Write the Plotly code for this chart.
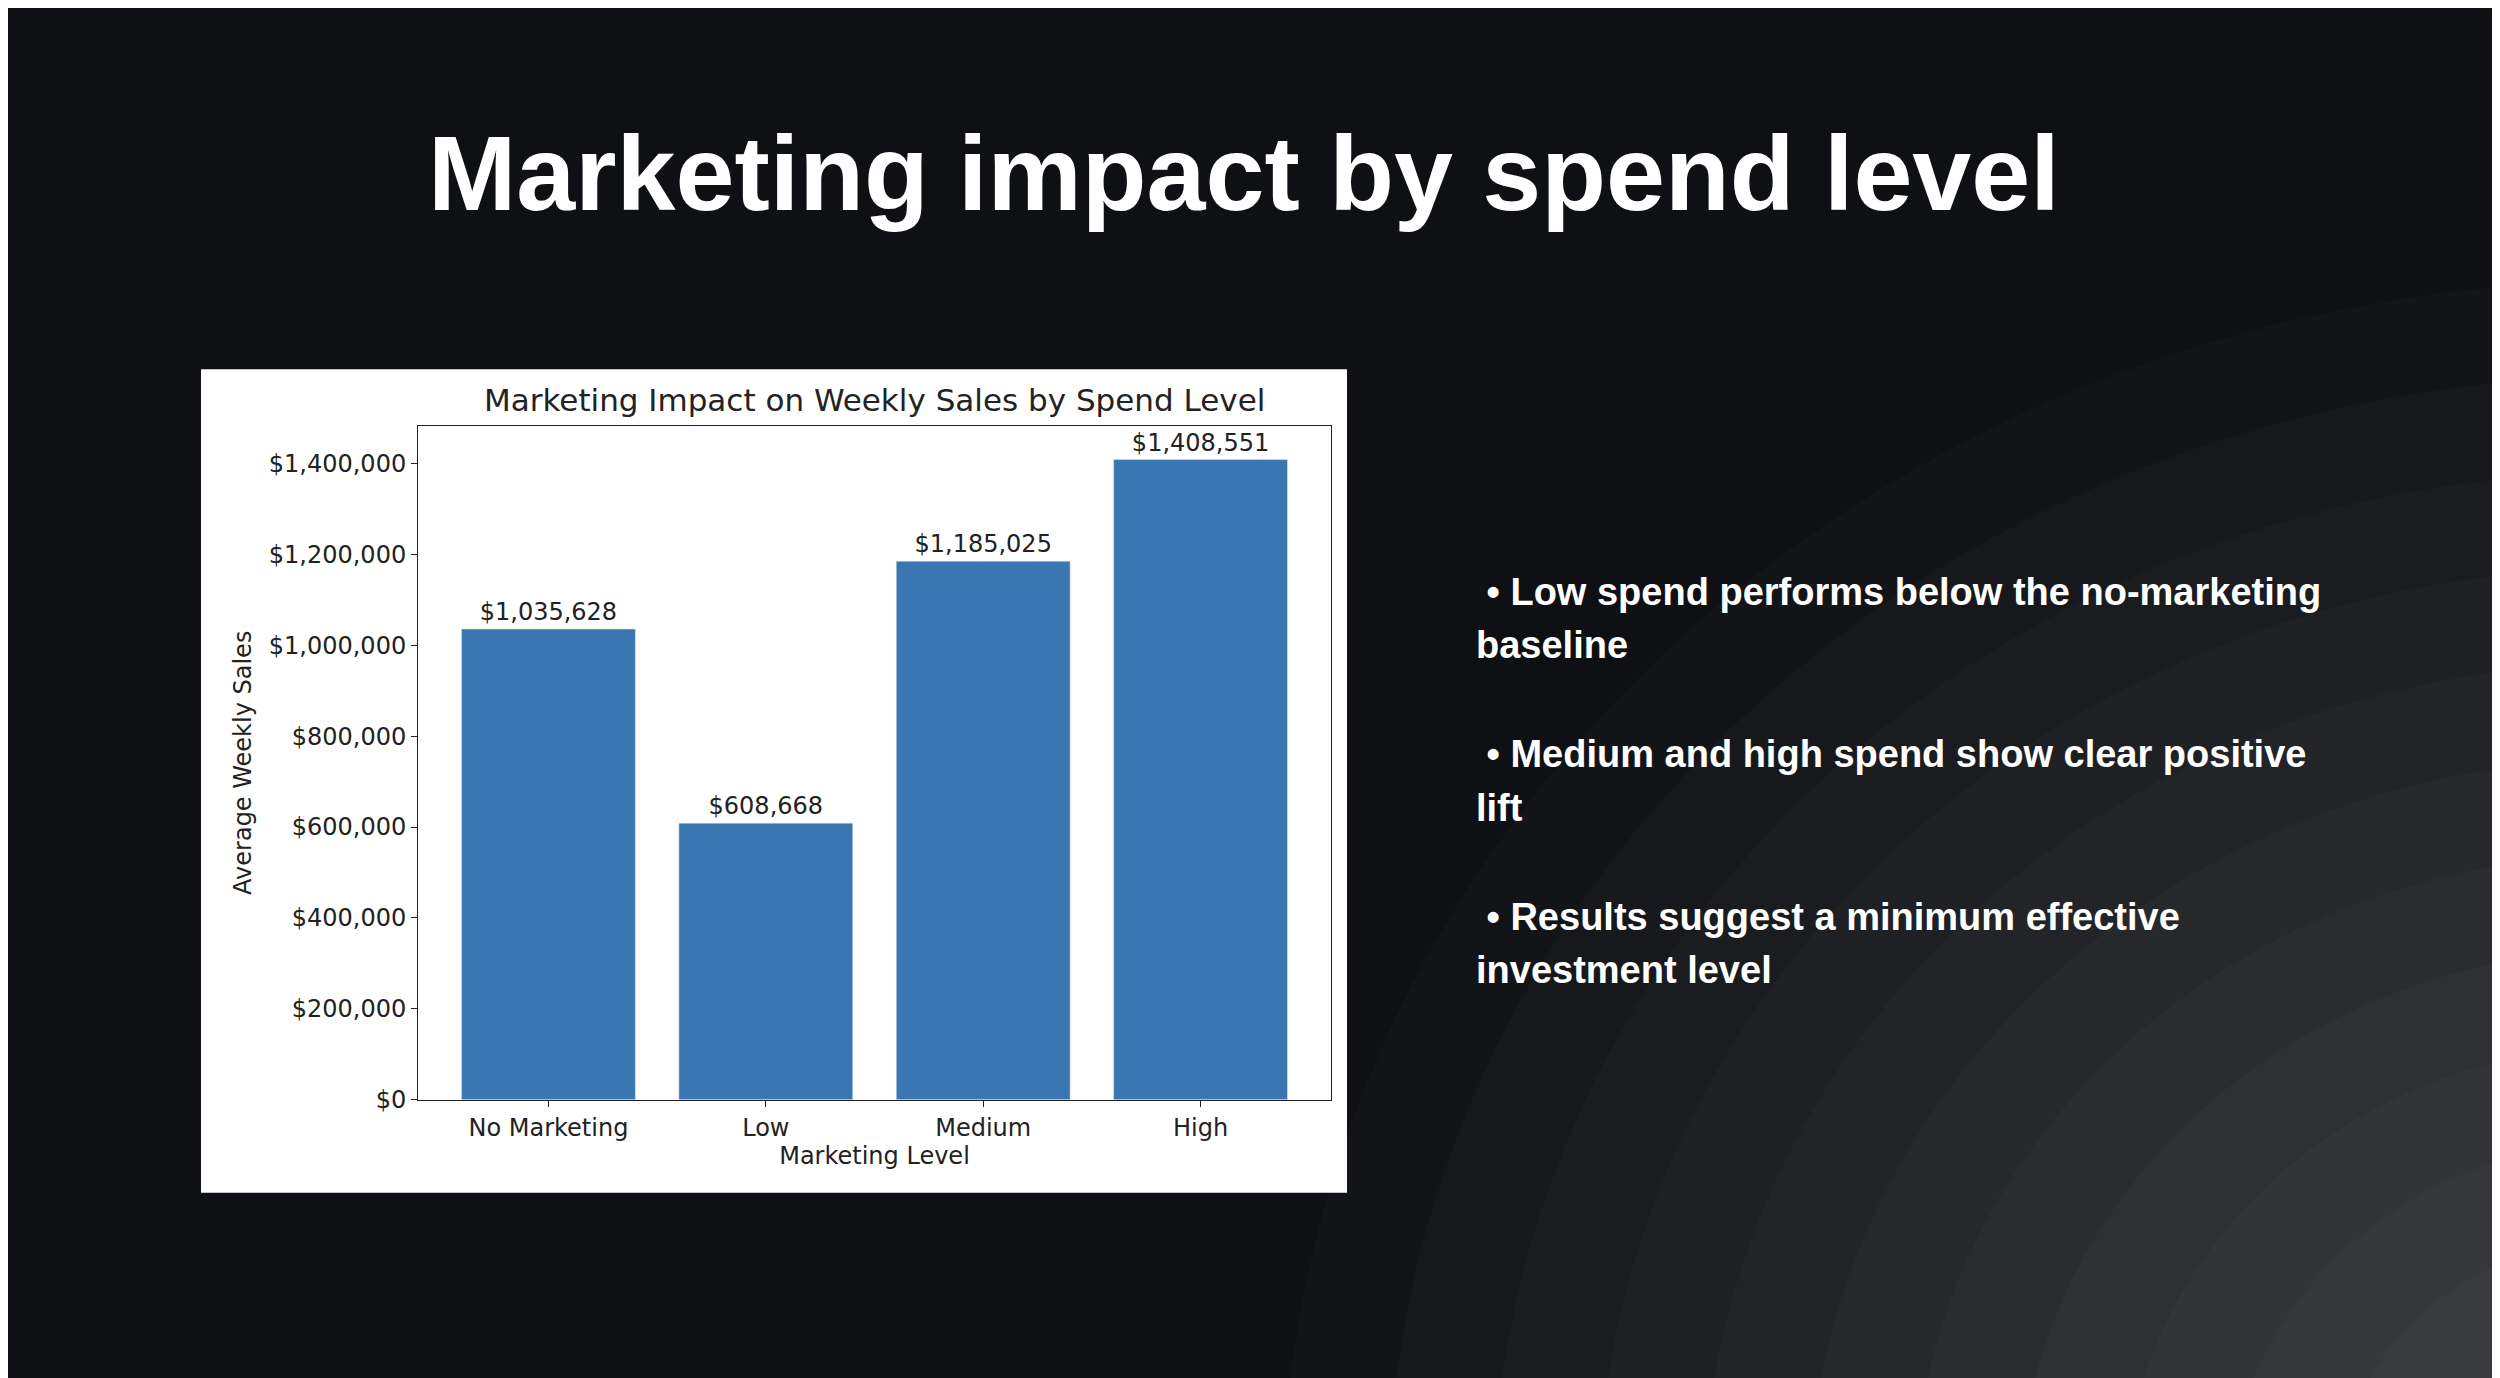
import plotly.graph_objects as go

levels = ["No Marketing", "Low", "Medium", "High"]
avg_sales = [1035628, 608668, 1185025, 1408551]
tick_vals = [0, 200000, 400000, 600000, 800000, 1000000, 1200000, 1400000]
tick_text = ["$0", "$200,000", "$400,000", "$600,000", "$800,000", "$1,000,000", "$1,200,000", "$1,400,000"]
bullets = [
    [" • Low spend performs below the no-marketing", "baseline"],
    [" • Medium and high spend show clear positive", "lift"],
    [" • Results suggest a minimum effective", "investment level"],
]

W, H = 2500, 1378
def py(y):
    return 1 - y / H

fig = go.Figure(go.Bar(
    x=levels, y=avg_sales, width=0.8, marker_color="#3a76b2",
    text=[f"${v:,.0f}" for v in avg_sales], textposition="outside",
    textfont=dict(color="#222", size=24, family="DejaVu Sans"), cliponaxis=False,
))

fig.update_layout(
    width=W, height=H, margin=dict(l=0, r=0, t=0, b=0),
    paper_bgcolor="#0e1014", plot_bgcolor="white", showlegend=False,
    font=dict(family="DejaVu Sans", color="#222"),
    xaxis=dict(domain=[410 / W, 1323 / W], range=[-0.6, 3.6], showline=True, linecolor="#222",
               mirror=True, ticks="outside", ticklen=6, tickcolor="#222",
               tickfont=dict(size=24, color="#222"),
               title=dict(text="Marketing Level", font=dict(size=24, color="#222"), standoff=4)),
    yaxis=dict(domain=[py(1103), py(422)], range=[0, 1483000], showline=True, linecolor="#222",
               mirror=True, ticks="outside", ticklen=6, tickcolor="#222", showgrid=False,
               tickvals=tick_vals, ticktext=tick_text, tickfont=dict(size=24, color="#222"),
               title=dict(text="Average Weekly Sales", font=dict(size=24, color="#222"), standoff=10)),
)

# soft lighter glow toward bottom-right corner
for k in range(12):
    r = 0.9 - k * 0.07
    fig.add_shape(type="circle", xref="paper", yref="paper",
                  x0=1.05 - r * 0.6, x1=1.05 + r * 0.6, y0=-0.1 - r, y1=-0.1 + r,
                  fillcolor="rgba(255,255,255,0.018)", line_width=0, layer="below")

# white panel behind chart
fig.add_shape(type="rect", xref="paper", yref="paper", x0=193 / W, x1=1339 / W,
              y0=py(1197), y1=py(365), fillcolor="white", line_width=0, layer="below")

fig.add_annotation(text="Marketing Impact on Weekly Sales by Spend Level", xref="paper", yref="paper",
                   x=(410 + 1323) / 2 / W, y=py(396), yanchor="middle", showarrow=False,
                   font=dict(size=31, color="#222"))

fig.add_annotation(text="<b>Marketing impact by spend level</b>", xref="paper", yref="paper",
                   x=1236 / W, y=py(167), yanchor="middle", showarrow=False,
                   font=dict(size=106, color="white", family="Liberation Sans"))

ys = [590, 644, 754, 808, 918, 972]
i = 0
for b in bullets:
    for line in b:
        fig.add_annotation(text=f"<b>{line}</b>", xref="paper", yref="paper", x=1466 / W, y=py(ys[i]),
                           xanchor="left", yanchor="middle", showarrow=False,
                           font=dict(size=38, color="white", family="Liberation Sans"))
        i += 1

fig.write_html("out.html")
